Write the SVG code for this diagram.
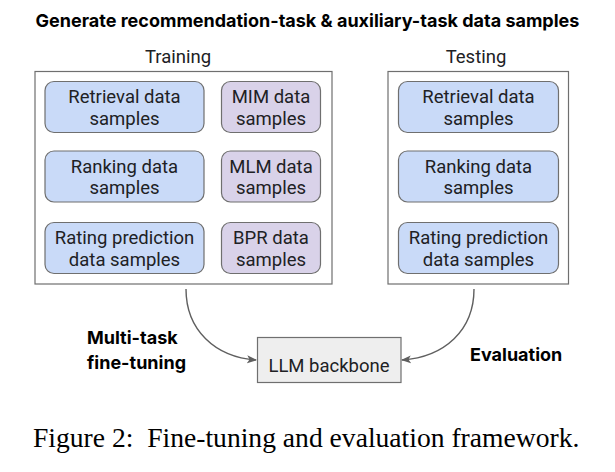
<svg xmlns="http://www.w3.org/2000/svg" width="615" height="472" viewBox="0 0 615 472">
<defs>
<style>
.t{font-family:Roboto,"Open Sans","Liberation Sans",sans-serif;font-size:18.5px;fill:#202124;text-anchor:middle}
.b{font-family:Inter,Roboto,"Liberation Sans",sans-serif;font-size:18px;font-weight:bold;fill:#000}
.blue{fill:#c9daf8;stroke:#6f6f6f;stroke-width:1.2}
.pur{fill:#d9d2e9;stroke:#6f6f6f;stroke-width:1.2}
.frame{fill:#fff;stroke:#6f6f6f;stroke-width:1.2}
.conn{fill:none;stroke:#5f5f5f;stroke-width:1.4}
</style>
<marker id="ah" markerWidth="10" markerHeight="10" refX="9" refY="5" orient="auto" markerUnits="userSpaceOnUse">
<path d="M0,1 L10,5 L0,9 L2.5,5 Z" fill="#5f5f5f"/>
</marker>
</defs>
<rect width="615" height="472" fill="#fff"/>
<text class="b" x="307.5" y="27" text-anchor="middle">Generate recommendation-task &amp; auxiliary-task data samples</text>
<text class="t" x="178" y="63">Training</text>
<text class="t" x="476" y="63">Testing</text>
<g id="training"><rect class="frame" x="35" y="71.5" width="297" height="212.5"/></g>
<g id="testing"><rect class="frame" x="388" y="71.5" width="180.5" height="212.5"/></g>
<g id="tr-retrieval"><rect class="blue" x="45" y="81.5" width="159" height="51" rx="9"/><text class="t" x="124.5" y="103">Retrieval data</text><text class="t" x="124.5" y="124.5">samples</text></g>
<g id="tr-ranking"><rect class="blue" x="45" y="151" width="159" height="51" rx="9"/><text class="t" x="124.5" y="172.5">Ranking data</text><text class="t" x="124.5" y="194">samples</text></g>
<g id="tr-rating"><rect class="blue" x="45" y="222.5" width="159" height="51" rx="9"/><text class="t" x="124.5" y="244">Rating prediction</text><text class="t" x="124.5" y="265.5">data samples</text></g>
<g id="mim"><rect class="pur" x="221.5" y="81.5" width="99" height="51" rx="9"/><text class="t" x="271" y="103">MIM data</text><text class="t" x="271" y="124.5">samples</text></g>
<g id="mlm"><rect class="pur" x="221.5" y="151" width="99" height="51" rx="9"/><text class="t" x="271" y="172.5">MLM data</text><text class="t" x="271" y="194">samples</text></g>
<g id="bpr"><rect class="pur" x="221.5" y="222.5" width="99" height="51" rx="9"/><text class="t" x="271" y="244">BPR data</text><text class="t" x="271" y="265.5">samples</text></g>
<g id="te-retrieval"><rect class="blue" x="398.5" y="81.5" width="160" height="51" rx="9"/><text class="t" x="478.5" y="103">Retrieval data</text><text class="t" x="478.5" y="124.5">samples</text></g>
<g id="te-ranking"><rect class="blue" x="398.5" y="151" width="160" height="51" rx="9"/><text class="t" x="478.5" y="172.5">Ranking data</text><text class="t" x="478.5" y="194">samples</text></g>
<g id="te-rating"><rect class="blue" x="398.5" y="222.5" width="160" height="51" rx="9"/><text class="t" x="478.5" y="244">Rating prediction</text><text class="t" x="478.5" y="265.5">data samples</text></g>
<g id="llm"><rect x="257.5" y="337.5" width="143.5" height="45" fill="#eeeeee" stroke="#6f6f6f" stroke-width="1.2"/><text class="t" x="329" y="371.5">LLM backbone</text></g>
<g id="connectors">
<path class="conn" d="M186,289 C186,330 215,357 256,360" marker-end="url(#ah)"/>
<path class="conn" d="M474,289 C474,330 445,357 402,360" marker-end="url(#ah)"/>
</g>
<text class="b" x="87" y="344">Multi-task</text>
<text class="b" x="87" y="369">fine-tuning</text>
<text class="b" x="470" y="361">Evaluation</text>
<text x="33" y="447" xml:space="preserve" font-family="'Liberation Serif',serif" font-size="27.6" fill="#000">Figure 2:  Fine-tuning and evaluation framework.</text>
</svg>
